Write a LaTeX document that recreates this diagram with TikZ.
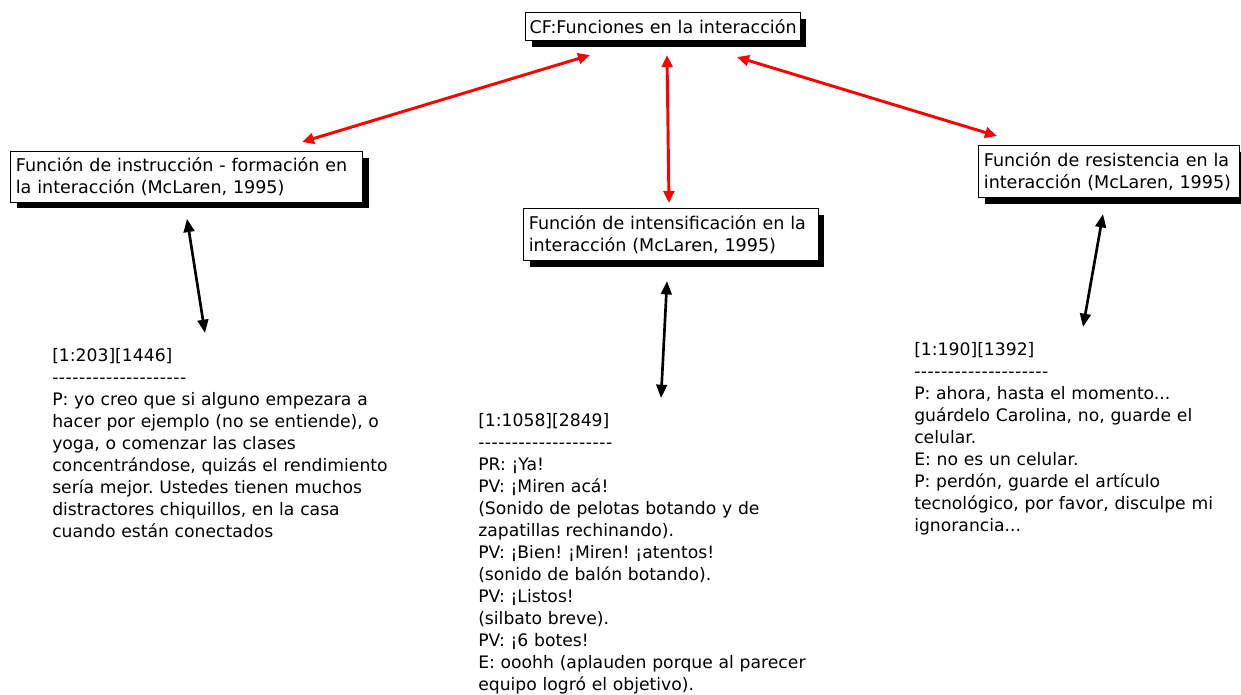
\documentclass[tikz,border=0pt]{standalone}
\usepackage{fontspec}
\setmainfont{DejaVu Sans}
\usetikzlibrary{arrows.meta,calc,shadows}
\frenchspacing
\newcommand{\txtfont}{\fontsize{12.9pt}{16.5pt}\selectfont}
\newcommand{\boxfont}{\fontsize{13.15pt}{16.5pt}\selectfont}
\newcommand{\dashline}{{\addfontfeatures{Ligatures=TeXOff,LetterSpace=3}--------------------}}
\begin{document}
\begin{tikzpicture}[x=0.75pt,y=-0.75pt,
  catbox/.style={draw=black, line width=0.8pt, fill=white, anchor=north west,
    align=left, inner xsep=4pt, inner ysep=0pt, font=\boxfont,
    drop shadow={shadow xshift=4.5pt, shadow yshift=-4.5pt, fill=black, opacity=1}},
  quote/.style={anchor=north west, align=left, inner sep=0pt, font=\txtfont,
    text width=300pt},
  link/.style={red, line width=2.2pt, {Triangle[length=9pt,width=8pt]}-{Triangle[length=9pt,width=8pt]}},
  ref/.style={black, line width=2pt, {Triangle[length=10pt,width=8pt]}-{Triangle[length=10pt,width=8pt]}}]
\useasboundingbox (0,0) rectangle (1241,694);
\fill[white] (0,0) rectangle (1241,694);

% category boxes
\node[catbox, inner xsep=3pt, text width=200pt, minimum height=21pt] (cf) at (525,12)
  {\mbox{CF:Funciones en la interacción}};
\node[catbox, text width=256pt, minimum height=38pt] (instr) at (10,151)
  {Función de instrucción - formación en\\la interacción (McLaren, 1995)};
\node[catbox, text width=213pt, minimum height=39pt] (inten) at (523,208)
  {Función de intensificación en la\\interacción (McLaren, 1995)};
\node[catbox, text width=188pt, minimum height=39pt] (resis) at (978,145)
  {Función de resistencia en la\\interacción (McLaren, 1995)};

% quotations
\node[quote] (q1) at (52,348) {[1:203][1446]\\\dashline\\
P: yo creo que si alguno empezara a\\
hacer por ejemplo (no se entiende), o\\
yoga, o comenzar las clases\\
concentrándose, quizás el rendimiento\\
sería mejor. Ustedes tienen muchos\\
distractores chiquillos, en la casa\\
cuando están conectados};
\node[quote] (q2) at (478,413) {[1:1058][2849]\\\dashline\\
PR: ¡Ya!\\
PV: ¡Miren acá!\\
(Sonido de pelotas botando y de\\
zapatillas rechinando).\\
PV: ¡Bien! ¡Miren! ¡atentos!\\
(sonido de balón botando).\\
PV: ¡Listos!\\
(silbato breve).\\
PV: ¡6 botes!\\
E: ooohh (aplauden porque al parecer\\
equipo logró el objetivo).};
\node[quote] (q3) at (914,342) {[1:190][1392]\\\dashline\\
P: ahora, hasta el momento...\\
guárdelo Carolina, no, guarde el\\
celular.\\
E: no es un celular.\\
P: perdón, guarde el artículo\\
tecnológico, por favor, disculpe mi\\
ignorancia...};

% links between the function and its kinds
\draw[link] ($(cf.south west)+(65,14)$) -- ($(instr.north west)+(292,-9)$);
\draw[link] ($(cf.south west)+(142,14)$) -- ($(inten.north west)+(146,-5)$);
\draw[link] ($(cf.south west)+(212,16)$) -- ($(resis.north west)+(19,-9)$);

% links between the kinds and their quotations
\draw[ref] ($(instr.south west)+(177,16)$) -- ($(q1.north west)+(153,-15)$);
\draw[ref] ($(inten.south west)+(144,20)$) -- ($(q2.north west)+(183,-15)$);
\draw[ref] ($(resis.south west)+(125,16)$) -- ($(q3.north west)+(169,-15)$);
\end{tikzpicture}
\end{document}
